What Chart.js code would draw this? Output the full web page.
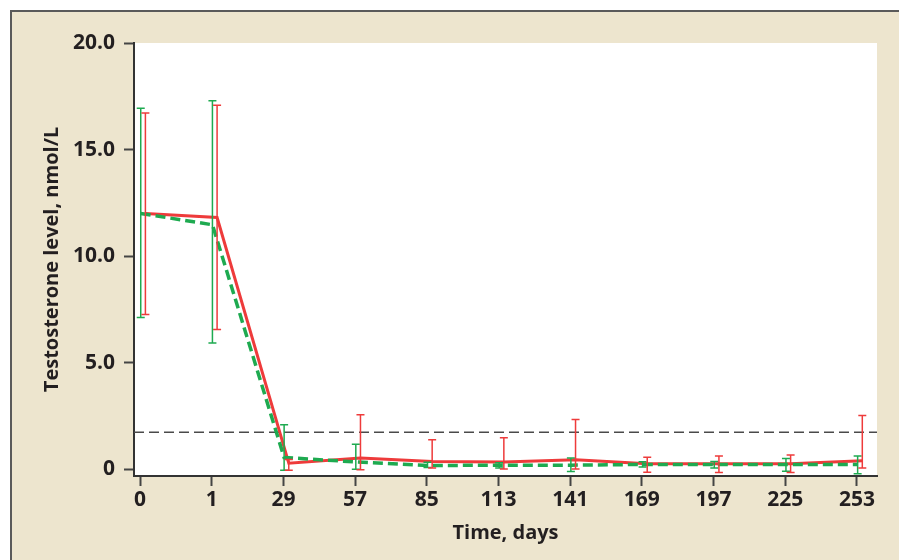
<!DOCTYPE html>
<html>
<head>
<meta charset="utf-8">
<script src="https://cdn.jsdelivr.net/npm/chart.js@4/dist/chart.umd.min.js"></script>
<style>
  html, body { margin: 0; padding: 0; background: #fff; }
  #wrap { width: 899px; height: 560px; position: relative; }
</style>
</head>
<body>
<div id="wrap"><canvas id="c" width="899" height="560"></canvas></div>
<script>
// Categories (time points, days)
const categories = ['0', '1', '29', '57', '85', '113', '141', '169', '197', '225', '253'];

// Red series (solid): mean, lower and upper error bar ends (nmol/L)
const redMean  = [12.0, 11.81, 0.28, 0.53, 0.36, 0.34, 0.44, 0.26, 0.26, 0.26, 0.39];
const redLow   = [7.26, 6.56, -0.05, -0.03, 0.05, 0.01, 0.01, -0.14, -0.16, -0.16, 0.05];
const redHigh  = [16.72, 17.08, 0.45, 2.56, 1.38, 1.48, 2.33, 0.56, 0.62, 0.66, 2.52];

// Green series (dashed): mean, lower and upper error bar ends (nmol/L)
const greenMean = [12.0, 11.47, 0.55, 0.34, 0.17, 0.19, 0.19, 0.22, 0.22, 0.22, 0.22];
const greenLow  = [7.12, 5.92, -0.05, 0.0, 0.08, 0.05, -0.11, 0.1, 0.06, -0.1, -0.22];
const greenHigh = [16.94, 17.29, 2.08, 1.17, 0.32, 0.3, 0.52, 0.35, 0.36, 0.5, 0.62];

// Castration threshold reference line (nmol/L)
const threshold = [1.73];

const yTicks = [0, 5, 10, 15, 20];

const RED = '#EE3B3B';
const GREEN = '#1EAA50';
const RED_OFFSET = 0.075;
const GREEN_OFFSET = 0.01;

const toPts = (arr, off) => arr.map((v, i) => ({ x: i + off, y: v }));

const framePlugin = {
  id: 'frame',
  beforeDraw(chart) {
    const { ctx, chartArea: a, width, height } = chart;
    ctx.save();
    ctx.fillStyle = '#ffffff';
    ctx.fillRect(0, 0, width, height);
    ctx.fillStyle = '#EDE5CE';
    ctx.fillRect(11, 11, width - 11, height - 11);
    ctx.strokeStyle = '#5a5a5a';
    ctx.lineWidth = 2;
    ctx.beginPath();
    ctx.moveTo(11, height);
    ctx.lineTo(11, 11);
    ctx.lineTo(width, 11);
    ctx.stroke();
    ctx.fillStyle = '#ffffff';
    ctx.fillRect(a.left, a.top, a.right - a.left, a.bottom - a.top);
    ctx.restore();
  }
};

const errorBarPlugin = {
  id: 'errbars',
  afterDatasetsDraw(chart) {
    const { ctx } = chart;
    const xs = chart.scales.x, ys = chart.scales.y;
    const draw = (low, high, off, color) => {
      ctx.save();
      ctx.strokeStyle = color;
      ctx.lineWidth = 1.5;
      low.forEach((lo, i) => {
        const px = xs.getPixelForValue(i + off);
        const y1 = ys.getPixelForValue(lo);
        const y2 = ys.getPixelForValue(high[i]);
        ctx.beginPath();
        ctx.moveTo(px, y1); ctx.lineTo(px, y2);
        ctx.moveTo(px - 4, y1); ctx.lineTo(px + 4, y1);
        ctx.moveTo(px - 4, y2); ctx.lineTo(px + 4, y2);
        ctx.stroke();
      });
      ctx.restore();
    };
    draw(greenLow, greenHigh, GREEN_OFFSET, GREEN);
    draw(redLow, redHigh, RED_OFFSET, RED);
  }
};

const FONT = "'Open Sans', 'Noto Sans', sans-serif";

new Chart(document.getElementById('c'), {
  type: 'line',
  data: {
    datasets: [
      {
        label: 'Threshold',
        data: [{ x: -0.084, y: threshold[0] }, { x: 10.28, y: threshold[0] }],
        borderColor: '#4a4a4a',
        borderWidth: 1.5,
        borderDash: [10, 5],
        pointRadius: 0,
        order: 3
      },
      {
        label: 'Red',
        data: toPts(redMean, RED_OFFSET),
        borderColor: RED,
        borderWidth: 3,
        pointRadius: 0,
        tension: 0,
        order: 2
      },
      {
        label: 'Green',
        data: toPts(greenMean, GREEN_OFFSET),
        borderColor: GREEN,
        borderWidth: 3.5,
        borderDash: [10, 5],
        pointRadius: 0,
        tension: 0,
        order: 1
      }
    ]
  },
  options: {
    responsive: false,
    animation: false,
    events: [],
    layout: { padding: { top: 43, right: 22, left: 0, bottom: 0 } },
    plugins: { legend: { display: false }, tooltip: { enabled: false } },
    scales: {
      x: {
        type: 'linear',
        min: -0.084,
        max: 10.28,
        afterBuildTicks: (s) => { s.ticks = categories.map((c, i) => ({ value: i })); },
        afterFit: (s) => { s.height = 84; },
        ticks: {
          callback: (v) => categories[v],
          color: '#231F20',
          font: { family: FONT, size: 21, weight: 'bold' },
          padding: 1,
          maxRotation: 0,
          autoSkip: false
        },
        grid: { drawOnChartArea: false, drawTicks: true, tickLength: 10, tickColor: '#444', tickWidth: 2 },
        border: { color: '#333', width: 2 },
        title: {
          display: true,
          text: 'Time, days',
          color: '#231F20',
          font: { family: FONT, size: 20, weight: 'bold' },
          padding: { top: 4, bottom: 15 }
        }
      },
      y: {
        type: 'linear',
        min: -0.32,
        max: 20,
        afterBuildTicks: (s) => { s.ticks = yTicks.map(v => ({ value: v })); },
        afterFit: (s) => { s.width = 134; },
        ticks: {
          callback: (v) => v === 0 ? '0' : v.toFixed(1),
          color: '#231F20',
          font: { family: FONT, size: 21, weight: 'bold' },
          padding: 9
        },
        grid: { drawOnChartArea: false, drawTicks: true, tickLength: 10, tickColor: '#444', tickWidth: 2 },
        border: { color: '#333', width: 2 },
        title: {
          display: true,
          text: 'Testosterone level, nmol/L',
          color: '#231F20',
          font: { family: FONT, size: 20, weight: 'bold' },
          padding: { top: 40, bottom: 0 }
        }
      }
    }
  },
  plugins: [framePlugin, errorBarPlugin]
});
</script>
</body>
</html>
